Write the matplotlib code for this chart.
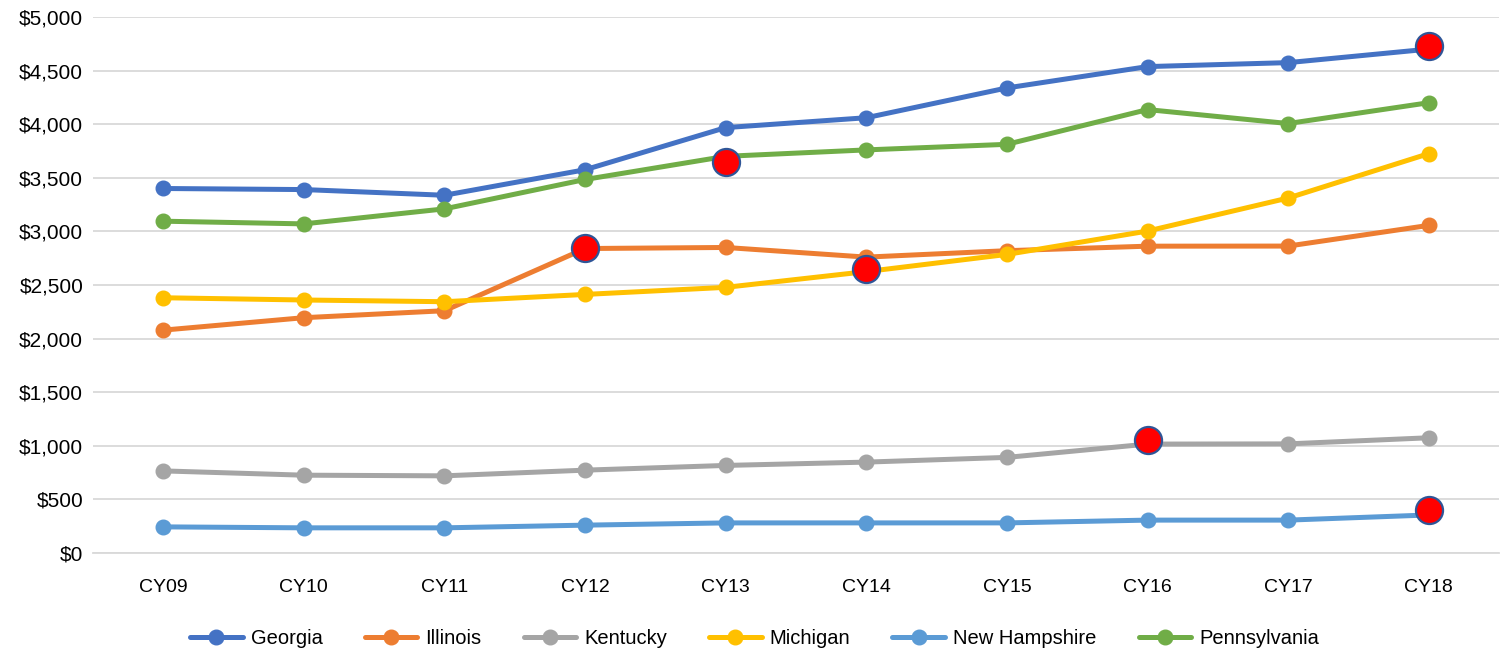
import matplotlib.pyplot as plt
from matplotlib.ticker import FuncFormatter

years = ['CY09', 'CY10', 'CY11', 'CY12', 'CY13', 'CY14', 'CY15', 'CY16', 'CY17', 'CY18']

georgia = [3400, 3390, 3337, 3575, 3968, 4060, 4338, 4537, 4574, 4700]
illinois = [2079, 2195, 2260, 2840, 2850, 2760, 2820, 2862, 2863, 3056]
kentucky = [766, 726, 720, 773, 817, 848, 892, 1016, 1018, 1075]
michigan = [2381, 2360, 2344, 2412, 2478, 2625, 2785, 3003, 3311, 3725]
new_hampshire = [244, 235, 235, 260, 281, 281, 281, 307, 307, 355]
pennsylvania = [3095, 3070, 3210, 3484, 3700, 3760, 3812, 4136, 4006, 4200]

# 红色高亮点
hl_idx = [3, 4, 5, 7, 9, 9]
hl_val = [2845, 3650, 2650, 1053, 4725, 400]

series = [
    ('Georgia', georgia, '#4472C4'),
    ('Illinois', illinois, '#ED7D31'),
    ('Kentucky', kentucky, '#A5A5A5'),
    ('Michigan', michigan, '#FFC000'),
    ('New Hampshire', new_hampshire, '#5B9BD5'),
    ('Pennsylvania', pennsylvania, '#70AD47'),
]

plt.rcParams['font.family'] = ['Liberation Sans', 'DejaVu Sans']

fig = plt.figure(figsize=(15.09, 6.52), dpi=100)
ax = fig.add_axes([0.0616, 0.1518, 0.9318, 0.8222])

x = list(range(len(years)))
for name, vals, color in series:
    ax.plot(x, vals, color=color, lw=3.6, marker='o', markersize=10.5,
            label=name, solid_capstyle='round')

ax.scatter([x[i] for i in hl_idx], hl_val, s=380, color='#FF0000',
           edgecolors='#2F5597', linewidths=1.6, zorder=5)

ax.set_xlim(-0.5, len(years) - 0.5)
ax.set_ylim(0, 5000)
ax.set_yticks(range(0, 5001, 500))
ax.yaxis.set_major_formatter(FuncFormatter(lambda v, p: f'${v:,.0f}'))
ax.set_xticks(x)
ax.set_xticklabels(years)
ax.tick_params(length=0, labelsize=14, colors='#000000')
ax.tick_params(axis='y', labelsize=15, pad=7)
ax.tick_params(axis='x', pad=19)
ax.grid(axis='y', color='#D9D9D9', lw=1.3)
ax.set_axisbelow(True)
for s in ['top', 'right', 'left']:
    ax.spines[s].set_visible(False)
ax.spines['bottom'].set_color('#D9D9D9')
ax.spines['bottom'].set_linewidth(1.3)

fig.legend(loc='lower center', ncol=6, frameon=False, fontsize=14.5,
           handlelength=2.6, columnspacing=2.1, handletextpad=0.4,
           bbox_to_anchor=(0.5, -0.022))

plt.savefig('out.png', dpi=100)
